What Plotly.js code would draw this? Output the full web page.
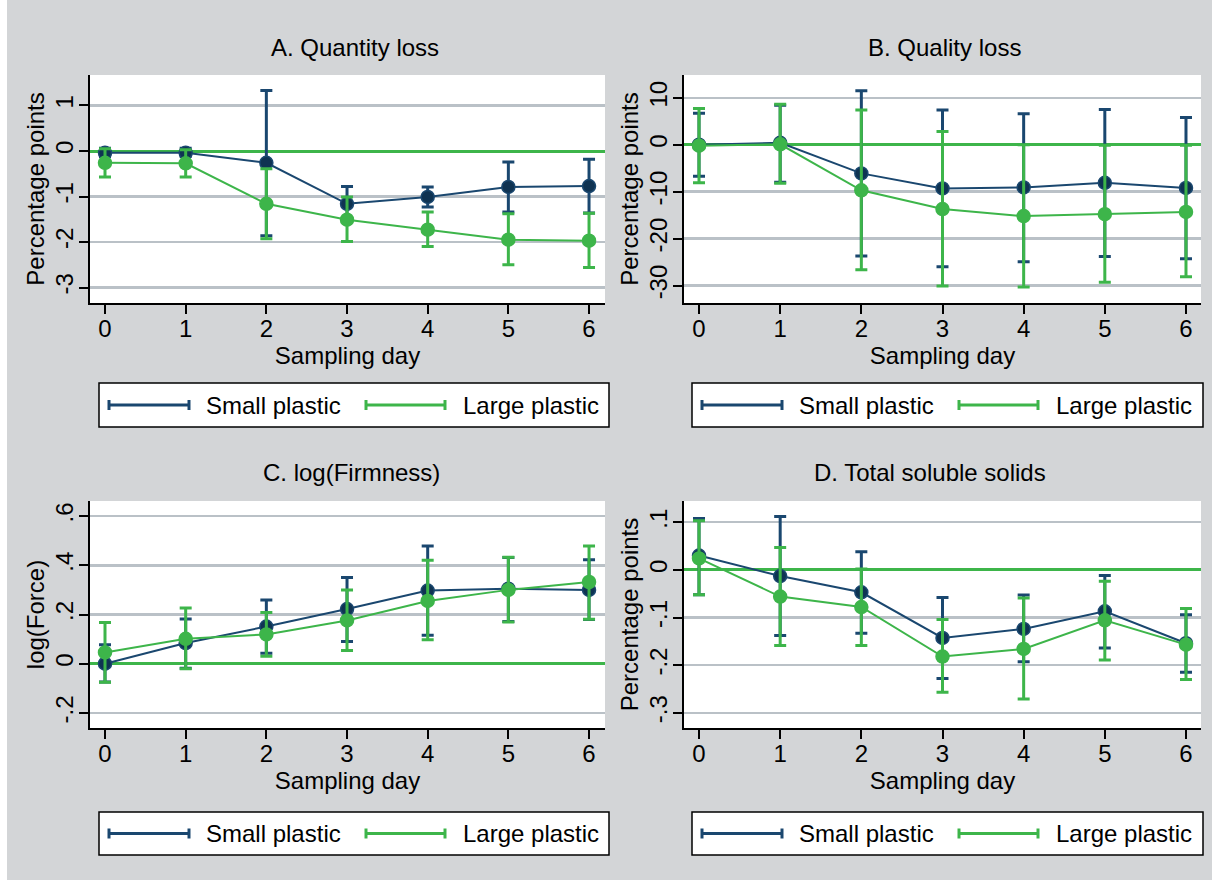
<!DOCTYPE html>
<html>
<head>
<meta charset="utf-8">
<script src="https://cdn.plot.ly/plotly-3.0.1.min.js"></script>
<style>
  html, body { margin: 0; padding: 0; background: #ffffff; }
  #chart { width: 1212px; height: 880px; }
</style>
</head>
<body>
<div id="chart"></div>
<script>
// ---------------- data ----------------
const days = [0, 1, 2, 3, 4, 5, 6];
const seriesNames = ["Small plastic", "Large plastic"];
const panelTitles = ["A. Quantity loss", "B. Quality loss", "C. log(Firmness)", "D. Total soluble solids"];
const yTitles = ["Percentage points", "Percentage points", "log(Force)", "Percentage points"];
const xTitle = "Sampling day";

// Panel A: Quantity loss
const smallA_mean = [-0.04, -0.04, -0.26, -1.16, -1.01, -0.79, -0.77];
const smallA_lo   = [-0.12, -0.12, -1.86, -1.54, -1.23, -1.34, -1.36];
const smallA_hi   = [0.06, 0.06, 1.33, -0.78, -0.79, -0.24, -0.18];
const largeA_mean = [-0.26, -0.27, -1.16, -1.51, -1.73, -1.95, -1.97];
const largeA_lo   = [-0.57, -0.57, -1.93, -1.99, -2.10, -2.50, -2.56];
const largeA_hi   = [0.05, 0.03, -0.39, -1.01, -1.34, -1.38, -1.37];

// Panel B: Quality loss
const smallB_mean = [0.0, 0.4, -6.1, -9.3, -9.1, -8.1, -9.2];
const smallB_lo   = [-6.7, -8.0, -23.7, -26.0, -24.9, -23.8, -24.3];
const smallB_hi   = [6.7, 8.4, 11.5, 7.4, 6.6, 7.5, 5.8];
const largeB_mean = [-0.2, 0.1, -9.7, -13.7, -15.2, -14.8, -14.3];
const largeB_lo   = [-8.1, -8.2, -26.6, -30.1, -30.3, -29.3, -28.1];
const largeB_hi   = [7.7, 8.6, 7.4, 2.8, 0.0, -0.1, -0.1];

// Panel C: log(Firmness)
const smallC_mean = [0.000, 0.084, 0.151, 0.222, 0.297, 0.305, 0.300];
const smallC_lo   = [-0.074, -0.018, 0.043, 0.090, 0.116, 0.172, 0.180];
const smallC_hi   = [0.077, 0.182, 0.259, 0.350, 0.478, 0.432, 0.422];
const largeC_mean = [0.046, 0.101, 0.119, 0.176, 0.255, 0.300, 0.332];
const largeC_lo   = [-0.075, -0.020, 0.030, 0.054, 0.097, 0.170, 0.181];
const largeC_hi   = [0.168, 0.226, 0.208, 0.300, 0.420, 0.433, 0.478];

// Panel D: Total soluble solids
const smallD_mean = [0.030, -0.013, -0.047, -0.143, -0.124, -0.087, -0.154];
const smallD_lo   = [-0.052, -0.138, -0.133, -0.228, -0.193, -0.164, -0.215];
const smallD_hi   = [0.108, 0.112, 0.038, -0.058, -0.053, -0.012, -0.094];
const largeD_mean = [0.024, -0.056, -0.078, -0.182, -0.166, -0.106, -0.157];
const largeD_lo   = [-0.052, -0.159, -0.159, -0.257, -0.271, -0.189, -0.230];
const largeD_hi   = [0.103, 0.047, 0.002, -0.104, -0.059, -0.024, -0.081];

// tick labels
const yTickValsA = [1, 0, -1, -2, -3];
const yTickTextA = ["1", "0", "-1", "-2", "-3"];
const yTickValsB = [10, 0, -10, -20, -30];
const yTickTextB = ["10", "0", "-10", "-20", "-30"];
const yTickValsC = [0.6, 0.4, 0.2, 0, -0.2];
const yTickTextC = [".6", ".4", ".2", "0", "-.2"];
const yTickValsD = [0.1, 0, -0.1, -0.2, -0.3];
const yTickTextD = [".1", "0", "-.1", "-.2", "-.3"];
const xTickText = ["0", "1", "2", "3", "4", "5", "6"];

// ---------------- styling ----------------
const W = 1212, H = 880;
const FONT = "Liberation Sans, Arial, Helvetica, sans-serif";
const FS = 24;
const NAVY = "#1a476f", NAVY_FILL = "#0f3352", GREEN = "#3db54a";
const GRID = "#bac1c7", BG = "#d3d5d7";

const px = v => v / W;
const py = v => 1 - v / H;

// plot area rectangles in pixels [left, right, top, bottom]
const boxes = [
  [90, 605, 75, 303],
  [684, 1201, 75, 303],
  [90, 605, 501, 728],
  [684, 1201, 501, 728]
];
const xRanges = [[-0.186, 6.198], [-0.185, 6.185], [-0.186, 6.198], [-0.185, 6.185]];
const yRanges = [[-3.34, 1.67], [-33.7, 14.85], [-0.261, 0.661], [-0.332, 0.1446]];
const yTickVals = [yTickValsA, yTickValsB, yTickValsC, yTickValsD];
const yTickTexts = [yTickTextA, yTickTextB, yTickTextC, yTickTextD];

const panels = [
  {s: [smallA_mean, smallA_lo, smallA_hi], l: [largeA_mean, largeA_lo, largeA_hi]},
  {s: [smallB_mean, smallB_lo, smallB_hi], l: [largeB_mean, largeB_lo, largeB_hi]},
  {s: [smallC_mean, smallC_lo, smallC_hi], l: [largeC_mean, largeC_lo, largeC_hi]},
  {s: [smallD_mean, smallD_lo, smallD_hi], l: [largeD_mean, largeD_lo, largeD_hi]}
];

const traces = [];
const layout = {
  width: W, height: H,
  margin: {l: 0, r: 0, t: 0, b: 0},
  paper_bgcolor: BG,
  plot_bgcolor: "#ffffff",
  showlegend: false,
  font: {family: FONT, size: FS, color: "#000000"},
  annotations: [],
  shapes: []
};

function errTrace(name, mean, lo, hi, color, fill, xa, ya) {
  return {
    type: "scatter", mode: "lines+markers", name: name,
    x: days, y: mean, xaxis: xa, yaxis: ya,
    line: {color: color, width: 2},
    marker: {size: 13, color: fill, line: {color: color, width: 1.5}},
    error_y: {
      type: "data", symmetric: false,
      array: hi.map((h, i) => h - mean[i]),
      arrayminus: mean.map((m, i) => m - lo[i]),
      color: color, thickness: 3, width: 6
    },
    hoverinfo: "x+y+name"
  };
}

panels.forEach((p, k) => {
  const n = k === 0 ? "" : String(k + 1);
  const xa = "x" + n, ya = "y" + n;
  traces.push(errTrace(seriesNames[0], p.s[0], p.s[1], p.s[2], NAVY, NAVY_FILL, xa, ya));
  traces.push(errTrace(seriesNames[1], p.l[0], p.l[1], p.l[2], GREEN, GREEN, xa, ya));

  const b = boxes[k];
  layout["xaxis" + n] = {
    domain: [px(b[0]), px(b[1])], anchor: ya, range: xRanges[k],
    tickmode: "array", tickvals: days, ticktext: xTickText,
    ticks: "outside", ticklen: 9, tickwidth: 2, tickcolor: "#000",
    ticklabelstandoff: -6,
    showline: true, linecolor: "#000", linewidth: 2,
    showgrid: false, zeroline: false,
    tickfont: {family: FONT, size: FS},
    title: {text: xTitle, font: {family: FONT, size: FS}, standoff: 6}
  };
  layout["yaxis" + n] = {
    domain: [py(b[3]), py(b[2])], anchor: xa, range: yRanges[k],
    tickmode: "array", tickvals: yTickVals[k], ticktext: yTickTexts[k],
    tickangle: -90,
    ticks: "outside", ticklen: 9, tickwidth: 2, tickcolor: "#000",
    ticklabelstandoff: -4,
    showline: true, linecolor: "#000", linewidth: 2,
    showgrid: true, gridcolor: GRID, gridwidth: 2.5,
    zeroline: true, zerolinecolor: GREEN, zerolinewidth: 3,
    tickfont: {family: FONT, size: FS},
    title: {text: yTitles[k], font: {family: FONT, size: FS}, standoff: 0}
  };
});

// panel titles
const titlePos = [[355, 47], [944, 47], [351, 472], [930, 472]];
panelTitles.forEach((t, k) => {
  layout.annotations.push({
    text: t, xref: "paper", yref: "paper",
    x: px(titlePos[k][0]), y: py(titlePos[k][1]),
    xanchor: "center", yanchor: "middle", showarrow: false,
    font: {family: FONT, size: FS, color: "#000"}
  });
});

// white strip at left edge
layout.shapes.push({type: "rect", xref: "paper", yref: "paper",
  x0: 0, x1: px(7), y0: 0, y1: 1, fillcolor: "#ffffff", line: {width: 0}, layer: "below"});

// legends (custom boxes with capped-line keys)
const legendBoxes = [
  [99, 609, 383, 427],
  [692, 1203, 383, 427],
  [99, 609, 812, 855],
  [692, 1203, 812, 855]
];
legendBoxes.forEach(lb => {
  const [l, r, t, bt] = lb;
  const cy = (t + bt) / 2;
  layout.shapes.push({type: "rect", xref: "paper", yref: "paper",
    x0: px(l), x1: px(r), y0: py(bt), y1: py(t),
    fillcolor: "#ffffff", line: {color: "#000", width: 1.5}});
  const keys = [[l + 10, l + 90, l + 105, NAVY, seriesNames[0]], [l + 267, l + 346, l + 362, GREEN, seriesNames[1]]];
  keys.forEach(kk => {
    const [x0, x1, tx, col, name] = kk;
    layout.shapes.push({type: "line", xref: "paper", yref: "paper",
      x0: px(x0), x1: px(x1), y0: py(cy), y1: py(cy), line: {color: col, width: 3}});
    [x0, x1].forEach(xe => layout.shapes.push({type: "line", xref: "paper", yref: "paper",
      x0: px(xe), x1: px(xe), y0: py(cy - 5), y1: py(cy + 5), line: {color: col, width: 3}}));
    layout.annotations.push({text: name, xref: "paper", yref: "paper",
      x: px(tx), y: py(cy), xanchor: "left", yanchor: "middle", showarrow: false,
      font: {family: FONT, size: FS, color: "#000"}});
  });
});

Plotly.newPlot("chart", traces, layout, {displayModeBar: false, staticPlot: true});
</script>
</body>
</html>
